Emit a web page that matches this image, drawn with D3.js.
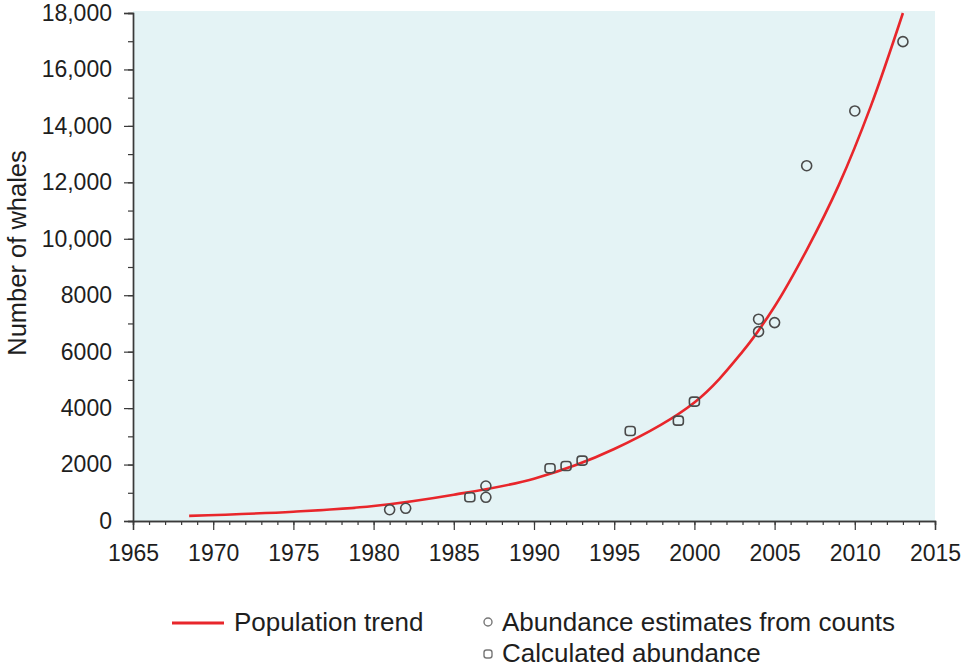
<!DOCTYPE html>
<html>
<head>
<meta charset="utf-8">
<script src="https://cdn.jsdelivr.net/npm/d3@7/dist/d3.min.js"></script>
<style>
  html, body { margin: 0; padding: 0; background: #ffffff; }
  svg { display: block; font-family: "Liberation Sans", Arial, sans-serif; }
</style>
</head>
<body>
<svg id="chart" width="966" height="669"></svg>
<script>
// ---- data ----
const trendYears  = [1968.5, 1975, 1980, 1985, 1990, 1995, 2000, 2003, 2005, 2007, 2009, 2011, 2013];
const trendValues = [180,    330,  530,  930,  1500, 2550, 4200, 6000, 7600, 9600, 11900, 14700, 18000];

const countYears  = [1981, 1982, 1987, 1987, 2004, 2004, 2005, 2007, 2010, 2013];
const countValues = [400,  450,  1240, 840,  7150, 6710, 7030, 12590, 14530, 16985];

const calcYears   = [1986, 1991, 1992, 1993, 1996, 1999, 2000];
const calcValues  = [840,  1870, 1950, 2140, 3190, 3555, 4230];

const xTickValues = [1965, 1970, 1975, 1980, 1985, 1990, 1995, 2000, 2005, 2010, 2015];
const yTickValues = [0, 2000, 4000, 6000, 8000, 10000, 12000, 14000, 16000, 18000];
const yTickLabels = ["0", "2000", "4000", "6000", "8000", "10,000", "12,000", "14,000", "16,000", "18,000"];

const legendLabels = ["Population trend", "Abundance estimates from counts", "Calculated abundance"];
const yAxisTitle = "Number of whales";

// ---- layout ----
const svg = d3.select("#chart");
const pL = 133, pR = 935, pT = 13, pB = 521;

const x = d3.scaleLinear().domain([1965, 2015]).range([pL, pR]);
const y = d3.scaleLinear().domain([0, 18000]).range([pB, pT]);

// plot background
svg.append("rect")
  .attr("x", pL).attr("y", pT - 2)
  .attr("width", pR - pL).attr("height", pB - pT + 2)
  .attr("fill", "#e4f3f5");

const axisColor = "#3a3a3a";
const textColor = "#1e1e1e";

// minor x ticks
const xMinor = svg.append("g")
  .attr("transform", `translate(0,${pB})`)
  .call(d3.axisBottom(x).tickValues(d3.range(1965, 2016, 1)).tickSize(4).tickFormat(""));
// major x ticks
const xMajor = svg.append("g")
  .attr("transform", `translate(0,${pB})`)
  .call(d3.axisBottom(x).tickValues(xTickValues).tickSize(9).tickPadding(15).tickFormat(d3.format("d")));
[xMinor, xMajor].forEach(g => {
  g.selectAll("path").attr("stroke", axisColor).attr("stroke-width", 1.4);
  g.selectAll("line").attr("stroke", axisColor).attr("stroke-width", 1.2);
});
xMajor.selectAll("text")
  .attr("font-size", 23).attr("fill", textColor)
  .attr("font-family", "Liberation Sans, Arial, sans-serif");

// minor y ticks
const yMinor = svg.append("g")
  .attr("transform", `translate(${pL},0)`)
  .call(d3.axisLeft(y).tickValues(d3.range(0, 18001, 1000)).tickSize(5).tickFormat(""));
const yMajor = svg.append("g")
  .attr("transform", `translate(${pL},0)`)
  .call(d3.axisLeft(y).tickValues(yTickValues).tickSize(9).tickPadding(12)
        .tickFormat((d, i) => yTickLabels[i]));
[yMinor, yMajor].forEach(g => {
  g.selectAll("path").attr("stroke", axisColor).attr("stroke-width", 1.4);
  g.selectAll("line").attr("stroke", axisColor).attr("stroke-width", 1.2);
});
yMajor.selectAll("text")
  .attr("font-size", 23).attr("fill", textColor)
  .attr("font-family", "Liberation Sans, Arial, sans-serif");

// y axis title
svg.append("text")
  .attr("transform", `translate(26,253) rotate(-90)`)
  .attr("text-anchor", "middle")
  .attr("font-size", 25.5).attr("fill", textColor)
  .text(yAxisTitle);

// trend line
const trend = trendYears.map((t, i) => [t, trendValues[i]]);
svg.append("path")
  .datum(trend)
  .attr("fill", "none")
  .attr("stroke", "#e8262b")
  .attr("stroke-width", 2.6)
  .attr("d", d3.line().x(d => x(d[0])).y(d => y(d[1])).curve(d3.curveCatmullRom.alpha(0.5)));

// markers
const markerStroke = "#4a4a4a";
svg.append("g").selectAll("circle")
  .data(countYears.map((t, i) => [t, countValues[i]]))
  .join("circle")
  .attr("cx", d => x(d[0])).attr("cy", d => y(d[1]))
  .attr("r", 5)
  .attr("fill", "none").attr("stroke", markerStroke).attr("stroke-width", 1.6);

svg.append("g").selectAll("rect")
  .data(calcYears.map((t, i) => [t, calcValues[i]]))
  .join("rect")
  .attr("x", d => x(d[0]) - 5).attr("y", d => y(d[1]) - 4.5)
  .attr("width", 10).attr("height", 9).attr("rx", 3)
  .attr("fill", "none").attr("stroke", markerStroke).attr("stroke-width", 1.6);

// legend
const leg = svg.append("g");
leg.append("line")
  .attr("x1", 172).attr("x2", 224).attr("y1", 623).attr("y2", 623)
  .attr("stroke", "#e8262b").attr("stroke-width", 3);
leg.append("text").attr("x", 234).attr("y", 622).attr("dy", "0.35em")
  .attr("font-size", 26).attr("fill", textColor).text(legendLabels[0]);

leg.append("circle").attr("cx", 488).attr("cy", 622).attr("r", 4)
  .attr("fill", "none").attr("stroke", "#777").attr("stroke-width", 1.4);
leg.append("text").attr("x", 502).attr("y", 622).attr("dy", "0.35em")
  .attr("font-size", 26).attr("fill", textColor).text(legendLabels[1]);

leg.append("rect").attr("x", 484).attr("y", 650).attr("width", 8).attr("height", 8).attr("rx", 2.5)
  .attr("fill", "none").attr("stroke", "#777").attr("stroke-width", 1.4);
leg.append("text").attr("x", 502).attr("y", 653).attr("dy", "0.35em")
  .attr("font-size", 26).attr("fill", textColor).text(legendLabels[2]);
</script>
</body>
</html>
